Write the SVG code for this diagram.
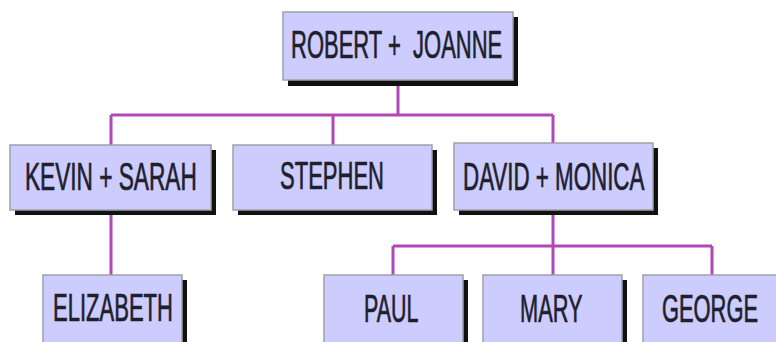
<svg xmlns="http://www.w3.org/2000/svg" width="776" height="342" viewBox="0 0 776 342">
<style>
.sh{fill:#111}
.bx{fill:#ccccff;stroke:#a0a0a8;stroke-width:1.5}
.t{font-family:"Liberation Sans",Arial,sans-serif;font-size:39px;fill:#20202c;stroke:#20202c;stroke-width:0.7;text-anchor:start}
.c{fill:none;stroke:#b048b8;stroke-width:3}
</style>
<rect width="776" height="342" fill="#fff"/>
<g id="connectors">
<path class="c" d="M398,80V115M111,115H553M111,115V145M333,115V145M553,115V143M111,210V275M553,210V246M393,246H712M393,246V275M553,246V275M712,246V275"/>
</g>
<g id="robert-joanne"><rect class="sh" x="288" y="17" width="230" height="69"/><rect class="bx" x="283" y="12" width="230" height="68"/><text class="t" xml:space="preserve" style="white-space:pre" transform="translate(291,58) scale(0.564,1)">ROBERT +  JOANNE</text></g>
<g id="kevin-sarah"><rect class="sh" x="15" y="150" width="201" height="65"/><rect class="bx" x="10" y="145" width="201" height="65"/><text class="t" transform="translate(25,190) scale(0.581,1)">KEVIN + SARAH</text></g>
<g id="stephen"><rect class="sh" x="238" y="150" width="199" height="65"/><rect class="bx" x="233" y="145" width="199" height="65"/><text class="t" transform="translate(280,189) scale(0.565,1)">STEPHEN</text></g>
<g id="david-monica"><rect class="sh" x="459" y="148" width="199" height="67"/><rect class="bx" x="454" y="143" width="199" height="67"/><text class="t" transform="translate(463,190) scale(0.573,1)">DAVID + MONICA</text></g>
<g id="elizabeth"><rect class="sh" x="48" y="280" width="139" height="70"/><rect class="bx" x="43" y="275" width="139" height="75"/><text class="t" transform="translate(53,321) scale(0.565,1)">ELIZABETH</text></g>
<g id="paul"><rect class="sh" x="329" y="280" width="139" height="70"/><rect class="bx" x="324" y="275" width="139" height="75"/><text class="t" transform="translate(364,322) scale(0.55,1)">PAUL</text></g>
<g id="mary"><rect class="sh" x="488" y="280" width="139" height="70"/><rect class="bx" x="483" y="275" width="139" height="75"/><text class="t" transform="translate(520,322) scale(0.559,1)">MARY</text></g>
<g id="george"><rect class="sh" x="648" y="280" width="139" height="70"/><rect class="bx" x="643" y="275" width="139" height="75"/><text class="t" transform="translate(662,322) scale(0.561,1)">GEORGE</text></g>
</svg>
